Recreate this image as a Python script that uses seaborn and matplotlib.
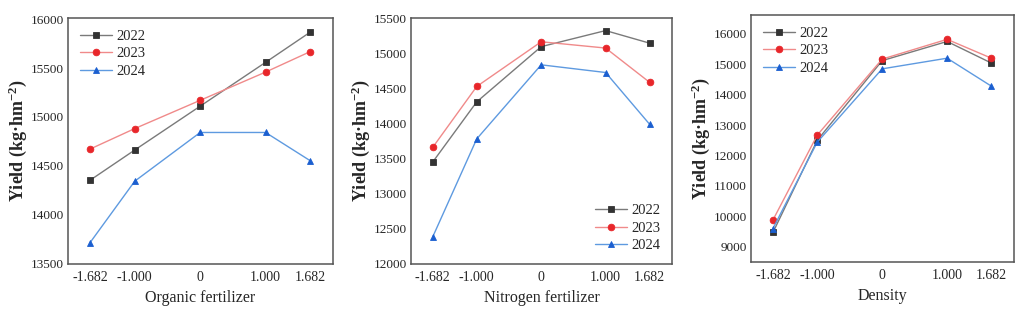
import matplotlib
matplotlib.use("Agg")
import matplotlib.pyplot as plt
import seaborn as sns
import pandas as pd
import numpy as np

sns.set_theme(style="white")
plt.rcParams['font.family'] = ['Liberation Serif', 'DejaVu Serif']
plt.rcParams['mathtext.fontset'] = 'custom'
plt.rcParams['mathtext.rm'] = 'Liberation Serif'
plt.rcParams['mathtext.bf'] = 'Liberation Serif:bold'
plt.rcParams['mathtext.it'] = 'Liberation Serif:italic'

x_vals = [-1.682, -1.0, 0.0, 1.0, 1.682]
x_labels = ["-1.682", "-1.000", "0", "1.000", "1.682"]
years = ["2022", "2023", "2024"]

organic_2022 = [14350, 14660, 15110, 15560, 15870]
organic_2023 = [14670, 14880, 15170, 15460, 15670]
organic_2024 = [13710, 14340, 14840, 14840, 14550]

nitrogen_2022 = [13450, 14310, 15100, 15330, 15150]
nitrogen_2023 = [13660, 14530, 15170, 15080, 14590]
nitrogen_2024 = [12380, 13780, 14840, 14730, 13990]

density_2022 = [9470, 12500, 15120, 15750, 15040]
density_2023 = [9880, 12670, 15170, 15820, 15200]
density_2024 = [9600, 12440, 14850, 15200, 14280]

panels = [
    ("Organic fertilizer", [organic_2022, organic_2023, organic_2024], (13490, 16015), np.arange(13500, 16001, 500), "upper left"),
    ("Nitrogen fertilizer", [nitrogen_2022, nitrogen_2023, nitrogen_2024], (11990, 15510), np.arange(12000, 15501, 500), "lower right"),
    ("Density", [density_2022, density_2023, density_2024], (8500, 16620), np.arange(9000, 16001, 1000), "upper left"),
]

line_colors = ["#7a7a7a", "#f08a8a", "#5e9ae0"]
marker_colors = ["#333333", "#e8262a", "#1b5fd0"]
markers = ["s", "o", "^"]

positions = [
    [68 / 1024, 56 / 320, 265 / 1024, 246 / 320],
    [411 / 1024, 56 / 320, 261 / 1024, 246 / 320],
    [751 / 1024, 58 / 320, 263 / 1024, 247 / 320],
]

fig = plt.figure(figsize=(10.24, 3.2), dpi=100)

for (xlabel, series, ylim, yticks, loc), pos in zip(panels, positions):
    ax = fig.add_axes(pos)
    for yr, vals, lc, mc, mk in zip(years, series, line_colors, marker_colors, markers):
        df = pd.DataFrame({"x": x_vals, "y": vals})
        sns.lineplot(data=df, x="x", y="y", ax=ax, color=lc, marker=mk,
                     markersize=4.8, markerfacecolor=mc, markeredgecolor=mc,
                     markeredgewidth=0.6, linewidth=1.0, label=yr)
    ax.set_xlim(-2.02, 2.03)
    ax.set_ylim(*ylim)
    ax.set_yticks(yticks)
    ax.set_yticklabels([str(int(t)) for t in yticks], fontsize=9.5)
    ax.set_xticks(x_vals)
    ax.set_xticklabels(x_labels, fontsize=10)
    ax.set_xticks([-1.6, -0.8, 0, 0.8, 1.6], minor=True)
    ax.tick_params(axis="x", which="major", length=0, pad=5)
    ax.tick_params(axis="x", which="minor", direction="in", length=3, width=0.8, color="#555555")
    ax.tick_params(axis="y", which="major", direction="in", length=3, width=0.8, color="#555555", pad=3)
    ax.set_xlabel(xlabel, fontsize=11.5, labelpad=4)
    ax.set_ylabel("Yield (kg\u00b7hm$^{\\mathbf{-2}}$)", fontsize=13, fontweight="bold", labelpad=1)
    for s in ax.spines.values():
        s.set_color("#555555")
        s.set_linewidth(1.1)
    leg = ax.legend(loc=loc, frameon=False, fontsize=10.5, handlelength=2.2,
                    handletextpad=0.3, labelspacing=0.3, borderaxespad=0.4)

fig.savefig("out.png", dpi=100)
